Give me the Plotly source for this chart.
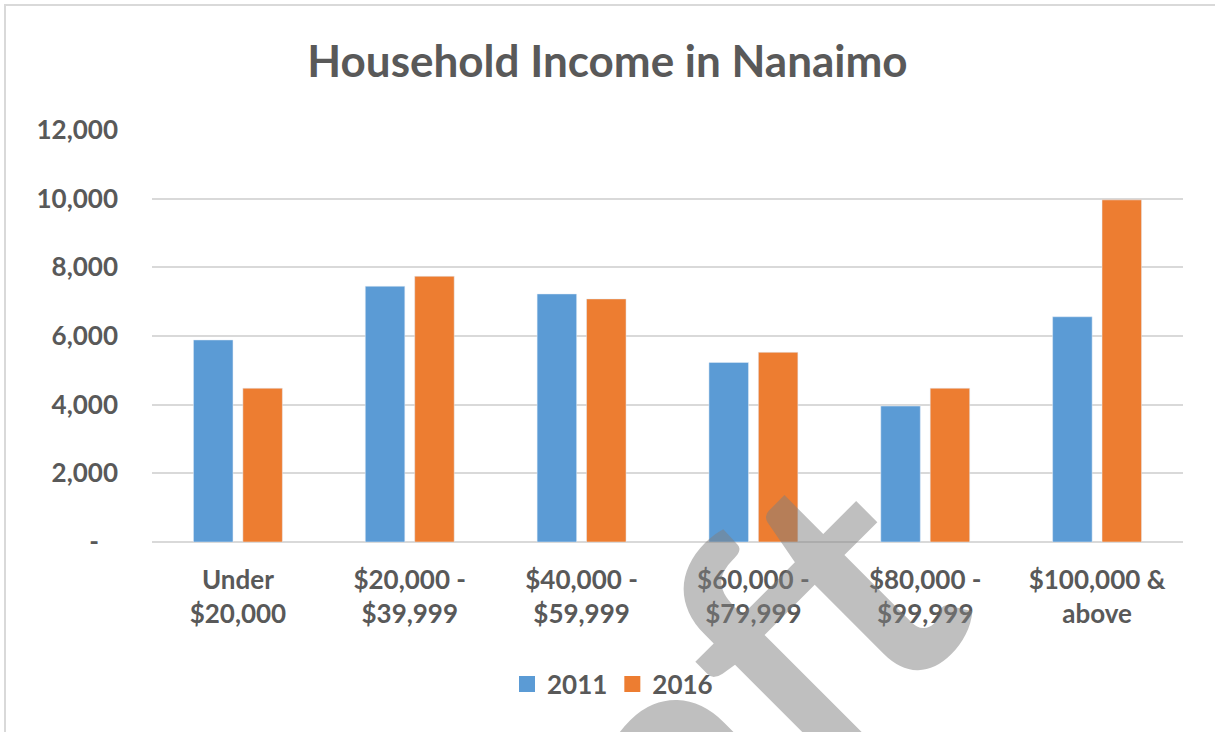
import plotly.graph_objects as go

categories = ["Under<br>$20,000", "$20,000 -<br>$39,999", "$40,000 -<br>$59,999",
              "$60,000 -<br>$79,999", "$80,000 -<br>$99,999", "$100,000 &<br>above"]
series_names = ["2011", "2016"]
values_2011 = [5885, 7450, 7225, 5230, 3960, 6560]
values_2016 = [4480, 7740, 7080, 5525, 4480, 9965]
y_tickvals = [0, 2000, 4000, 6000, 8000, 10000, 12000]
y_ticktext = ["-\u00a0\u00a0\u00a0", "2,000", "4,000", "6,000", "8,000", "10,000", "12,000"]

W, H = 1215, 732
L, R, T, B = 152, 32, 130, 190
pw, ph = W - L - R, H - T - B

def px_x(x):
    return (x - L) / pw

def px_y(y):
    return (H - B - y) / ph

FONT = "Lato, 'Open Sans', sans-serif"
GREY = "#595959"
COLORS = ["#5B9BD5", "#ED7D31"]

fig = go.Figure()
for name, vals, col in zip(series_names, [values_2011, values_2016], COLORS):
    fig.add_trace(go.Bar(name=name, x=categories, y=vals, marker_color=col,
                         showlegend=False))
# legend entries with larger square swatches
for name, col in zip(series_names, COLORS):
    fig.add_trace(go.Scatter(name=name, x=[None], y=[None], mode="markers",
                             marker=dict(symbol="square", size=18, color=col),
                             showlegend=True))

fig.update_layout(
    width=W, height=H,
    margin=dict(l=L, r=R, t=T, b=B),
    paper_bgcolor="white", plot_bgcolor="white",
    barmode="group", bargap=0.425, bargroupgap=0.2,
    title=dict(text="<b>Household Income in Nanaimo</b>", x=0.5, xanchor="center",
               y=1 - 62 / H, yanchor="middle",
               font=dict(family=FONT, size=44, color=GREY)),
    font=dict(family=FONT, size=26, color=GREY),
    legend=dict(orientation="h", xref="container", x=0.5 + 5 / W, xanchor="center",
                yref="container", y=1 - 684 / H, yanchor="middle",
                font=dict(family=FONT, size=26, color=GREY, weight="bold"),
                itemwidth=30, traceorder="normal"),
    showlegend=True,
)
fig.update_yaxes(range=[0, 12000], tickvals=y_tickvals, ticktext=y_ticktext,
                 showgrid=True, gridcolor="#D9D9D9", gridwidth=2,
                 zeroline=True, zerolinecolor="#D9D9D9", zerolinewidth=2,
                 showline=False, ticks="", ticklabelstandoff=33,
                 tickfont=dict(family=FONT, size=26, color=GREY, weight="bold"))
fig.update_xaxes(showline=False, ticks="", ticklabelstandoff=20,
                 tickfont=dict(family=FONT, size=26, color=GREY, weight="bold"))

# chart border (outer frame)
fig.add_shape(type="rect", xref="paper", yref="paper",
              x0=px_x(5), y0=px_y(745), x1=px_x(1225), y1=px_y(5),
              line=dict(color="#D9D9D9", width=2), fillcolor="rgba(0,0,0,0)", layer="below")

# watermark
fig.add_annotation(text="Draft", xref="paper", yref="paper", x=px_x(610), y=px_y(805),
                   xanchor="center", yanchor="middle",
                   showarrow=False, textangle=-45,
                   font=dict(family=FONT, size=340, weight="bold",
                             color="rgba(127,127,127,0.5)"))

fig.write_html("out.html", config={"displayModeBar": False},
               post_script="document.body.style.margin='0px';")
